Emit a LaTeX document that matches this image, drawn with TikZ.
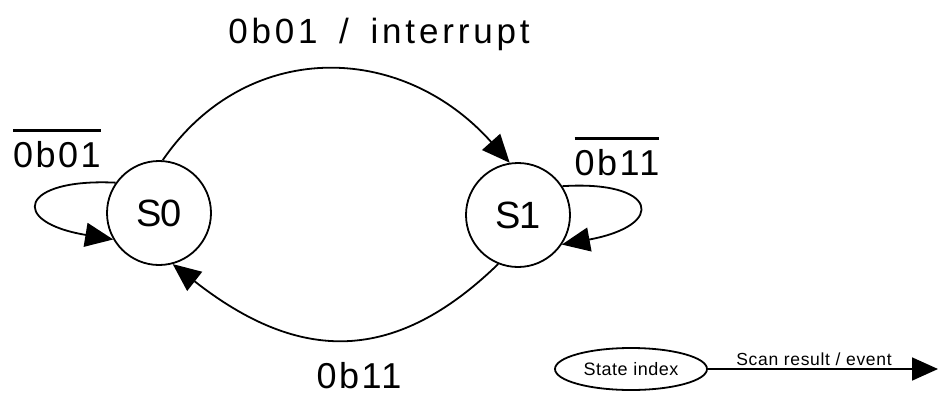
\documentclass[tikz,border=0pt]{standalone}
\usepackage{fontspec}
\setmainfont{Liberation Sans}
\usetikzlibrary{arrows.meta,shapes.geometric}
\newsavebox\ovbox
\newcommand\ovtext[1]{\sbox\ovbox{#1}\rlap{\rule[35.5pt]{\wd\ovbox}{3pt}}\usebox\ovbox}
\begin{document}
\begin{tikzpicture}[x=1pt,y=-1pt,
  state/.style={circle, draw, line width=1.8pt, minimum size=104pt, inner sep=0pt,
    font=\fontsize{38}{40}\selectfont\addfontfeature{LetterSpace=-5}},
  edgearrow/.style={line width=1.8pt, -{Triangle[length=28pt,width=24pt]}},
  biglabel/.style={inner sep=0pt, anchor=base, text depth=0pt,
    font=\fontsize{36}{40}\selectfont\addfontfeature{LetterSpace=7}},
  titlelabel/.style={inner sep=0pt, anchor=base,
    font=\fontsize{35}{40}\selectfont\addfontfeature{LetterSpace=11}},
  smalllabel/.style={inner sep=0pt, anchor=base,
    font=\fontsize{17.5}{20}\selectfont\addfontfeature{LetterSpace=4}},
  legendstate/.style={ellipse, draw, line width=1.8pt, minimum width=152pt, minimum height=42pt, inner sep=0pt,
    font=\fontsize{18}{20}\selectfont\addfontfeature{LetterSpace=3}}
]
\useasboundingbox (0,0) rectangle (938,394);

\node[state] (S0) at (159,213) {S0};
\node[state] (S1) at (518,215) {S1};

% transitions
\draw[edgearrow] (S0.86) .. controls (245,40) and (400,40) .. (S1.99);
\draw[edgearrow] (S1.248) .. controls (395,364) and (300,364) .. (S0.285);
\draw[edgearrow] (S0.145) .. controls (20,178) and (8,222) .. (S0.210);
\draw[edgearrow] (S1.33) .. controls (657,180) and (668,225) .. (S1.-34);

% labels
\node[titlelabel] (lt) at (379,43) {0b01\hspace{8pt} /\hspace{8pt} interrupt};
\node[biglabel] (l0) at (57,167) {\ovtext{0b01}};
\node[biglabel] (l1) at (617,175) {\ovtext{0b11}};
\node[biglabel] (lb) at (359,388) {0b11};

% legend
\node[legendstate] (leg) at (631,369) {State index};
\coordinate (legend end) at (938,369);
\draw[line width=1.8pt, -{Triangle[length=26pt,width=23pt]}] (leg.east) -- (legend end);
\node[smalllabel] (legl) at (814,365) {Scan result / event};
\end{tikzpicture}
\end{document}
